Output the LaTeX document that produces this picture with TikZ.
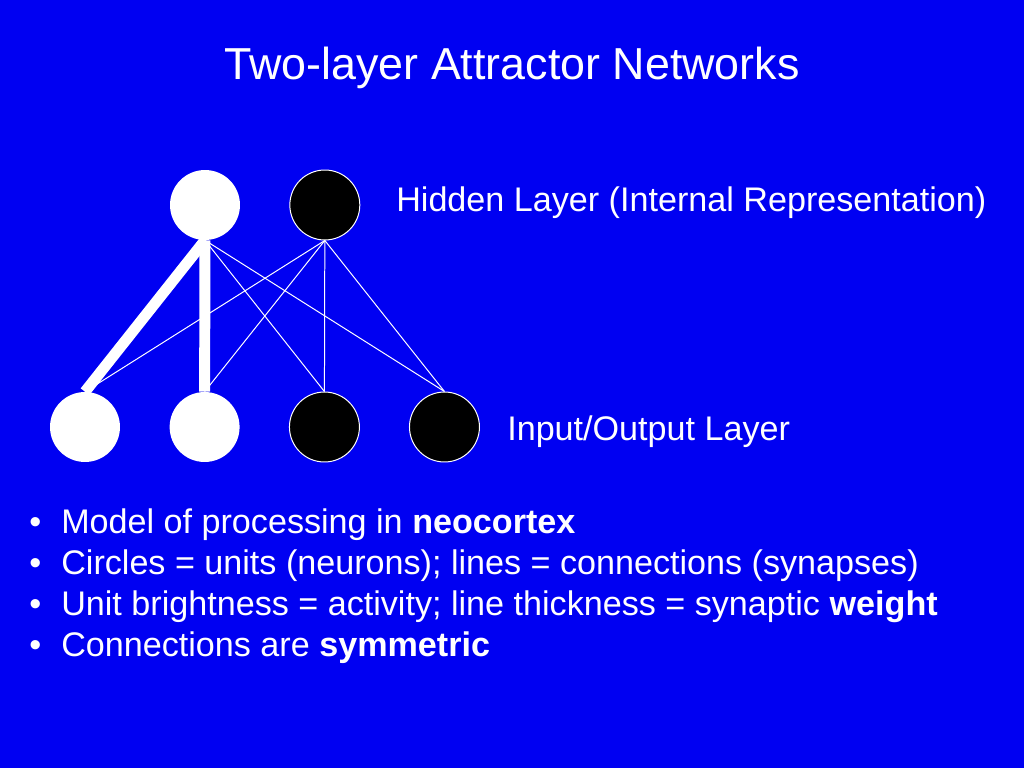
\documentclass[tikz,border=0pt]{standalone}
\usepackage{fontspec}
\setmainfont{Liberation Sans}
\usepackage{tikz}
\usetikzlibrary{positioning}
\definecolor{slideblue}{RGB}{0,0,242}
\tikzset{
  unit/.style={circle, minimum size=49.2pt, inner sep=0pt},
  active/.style={unit, fill=white},
  silent/.style={unit, fill=black, draw=white, line width=0.7pt},
  weak/.style={draw=white, line width=0.7pt},
  strong/.style={draw=white, line width=7.7pt},
  label/.style={anchor=base west, inner sep=0pt, text=white, font=\fontsize{24}{28}\selectfont},
}

\begin{document}
\begin{tikzpicture}[x=0.703125pt, y=-0.703125pt, node distance=34.5pt]
    \fill [slideblue] (0, 0) rectangle (1024, 768);
    \useasboundingbox (0, 0) rectangle (1024, 768);

    \node (title) [text=white, anchor=base, inner sep=0pt, font=\fontsize{31.5}{36}\selectfont] at (512, 80) {Two-layer Attractor Networks};

    % hidden layer
    \node (h1) [active] at (205, 205) {};
    \node (h2) [silent, right=of h1] {};

    % input/output layer
    \node (i1) [active] at (85, 427) {};
    \node (i2) [active, right=of i1] {};
    \node (i3) [silent, right=of i2] {};
    \node (i4) [silent, right=of i3] {};

    \draw [weak] (h1.south) -- (i3.north);
    \draw [weak] (h1.south) -- (i4.north);
    \foreach \i in {1,...,4}
      \draw [weak] (h2.south) -- (i\i.north);
    \draw [strong] (h1.south) -- (i1.north); % heavy weights
    \draw [strong] (h1.south) -- (i2.north);

    \node (hidlab) [label] at (396, 212) {Hidden Layer (Internal Representation)};
    \node (iolab) [label] at (507, 440) {Input/Output Layer};

    % bullets
    \foreach \y/\txt [count=\n] in {533/{Model of processing in \textbf{neocortex}},
        574/{Circles = units (neurons); lines = connections (synapses)},
        615/{Unit brightness = activity; line thickness = synaptic \textbf{weight}},
        656/{Connections are \textbf{symmetric}}} {
      \node (dot\n) [label] at (29, \y) {\textbullet};
      \node (item\n) [label] at (61, \y) {\txt};
    }
\end{tikzpicture}
\end{document}
